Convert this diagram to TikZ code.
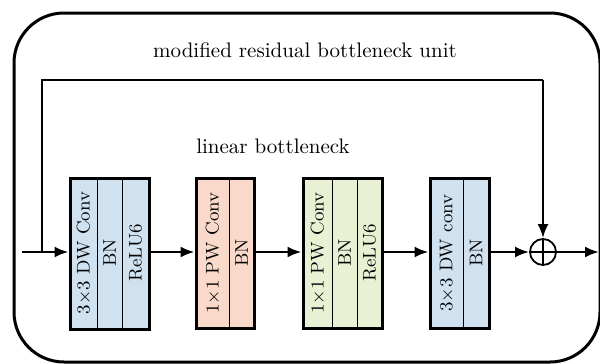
\documentclass[tikz,border=0pt]{standalone}
\usetikzlibrary{arrows.meta}
\definecolor{dwblue}{HTML}{D0E2F0}
\definecolor{pwpeach}{HTML}{F9DACA}
\definecolor{pwgreen}{HTML}{E9F1D5}
\tikzset{
  block/.style={draw, line width=1.5pt, inner sep=0pt},
  divider/.style={line width=0.5pt},
  coltext/.style={rotate=90, inner sep=0pt, font=\fontsize{9.2}{11}\selectfont},
  flow/.style={line width=1.2pt, -{Latex[length=7pt,width=5.5pt]}},
  wire/.style={line width=1.2pt},
  label/.style={font=\fontsize{10.5}{12}\selectfont},
  sumnode/.style={draw, circle, line width=0.9pt, minimum size=13pt, inner sep=0pt}
}
\begin{document}
\begin{tikzpicture}[x=0.5pt,y=-0.5pt]
\useasboundingbox (0,0) rectangle (600,364);
% outer frame
\draw[line width=1.5pt, rounded corners=25pt] (14,13) rectangle (600,362);
\node[label] (title) at (305,50) {modified residual bottleneck unit};
\node[label] (lin) at (273,146) {linear bottleneck};

% block 1: 3x3 DW Conv, BN, ReLU6
\node[block, fill=dwblue, minimum width=39.5pt, minimum height=75.5pt] (b1) at (109.5,253.5) {};
\draw[divider] (97,178) -- (97,329);
\draw[divider] (122,178) -- (122,329);
\node[coltext] (b1a) at (84,253) {3$\times$3 DW Conv};
\node[coltext] (b1b) at (109.5,253) {BN};
\node[coltext] (b1c) at (135.5,253) {ReLU6};

% block 2: 1x1 PW Conv, BN
\node[block, fill=pwpeach, minimum width=29pt, minimum height=75pt] (b2) at (225,253) {};
\draw[divider] (229,177.5) -- (229,328.5);
\node[coltext] (b2a) at (213,253) {1$\times$1 PW Conv};
\node[coltext] (b2b) at (241.5,253) {BN};

% block 3: 1x1 PW Conv, BN, ReLU6
\node[block, fill=pwgreen, minimum width=39.5pt, minimum height=75pt] (b3) at (342.5,253) {};
\draw[divider] (332,177.5) -- (332,328.5);
\draw[divider] (357,177.5) -- (357,328.5);
\node[coltext] (b3a) at (318,253) {1$\times$1 PW Conv};
\node[coltext] (b3b) at (344.5,253) {BN};
\node[coltext] (b3c) at (369.5,253) {ReLU6};

% block 4: 3x3 DW conv, BN
\node[block, fill=dwblue, minimum width=29.5pt, minimum height=75pt] (b4) at (459.5,253) {};
\draw[divider] (463,177.5) -- (463,328.5);
\node[coltext] (b4a) at (447,253) {3$\times$3 DW conv};
\node[coltext] (b4b) at (476,253) {BN};

% element-wise sum
\node[sumnode] (sum) at (543,252) {};
\draw[line width=0.9pt] (sum.north) -- (sum.south) (sum.west) -- (sum.east);

% main path
\coordinate (in) at (22,252);
\coordinate (split) at (42,252);
\coordinate (out) at (599,252);
\draw[flow] (in) -- (b1.west |- in);
\draw[flow] (b1.east |- in) -- (b2.west |- in);
\draw[flow] (b2.east |- in) -- (b3.west |- in);
\draw[flow] (b3.east |- in) -- (b4.west |- in);
\draw[flow] (b4.east |- in) -- (sum.west);
\draw[flow] (sum.east) -- (out);

% shortcut connection
\coordinate (topl) at (42,80);
\draw[wire] (split) -- (topl) -- (topl -| sum.north);
\draw[flow] (topl -| sum.north) -- (sum.north);
\end{tikzpicture}
\end{document}
